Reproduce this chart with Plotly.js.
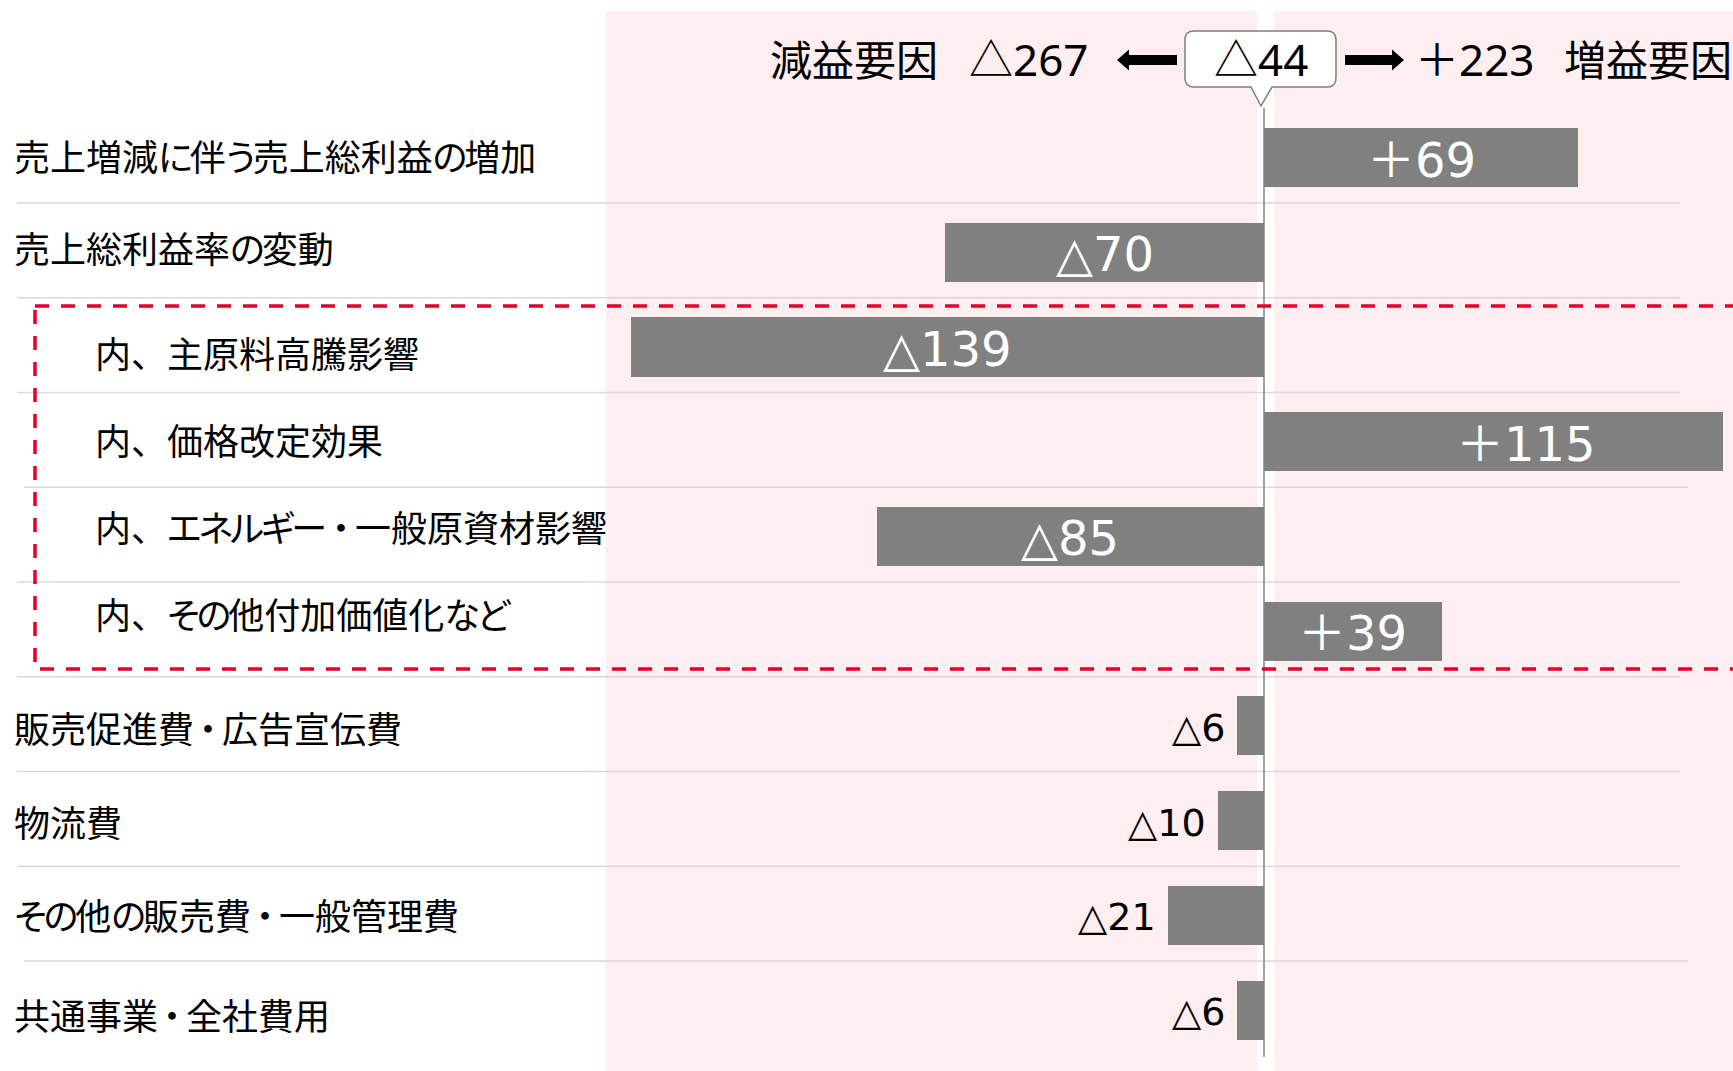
<!DOCTYPE html>
<html><head><meta charset="utf-8">
<script src="https://cdn.plot.ly/plotly-3.0.1.min.js"></script>
<style>
html,body{margin:0;padding:0;background:#fff;overflow:hidden;}
#chart{width:1733px;height:1071px;}
text.annotation-text{font-feature-settings:"palt";}
</style>
</head><body><div id="chart"></div>
<script>
// ---- data ----
const categories = [
  '売上増減に伴う売上総利益の増加',
  '売上総利益率の変動',
  '内、主原料高騰影響',
  '内、価格改定効果',
  '内、エネルギー・一般原資材影響',
  '内、その他付加価値化など',
  '販売促進費・広告宣伝費',
  '物流費',
  'その他の販売費・一般管理費',
  '共通事業・全社費用'
];
const values = [69, -70, -139, 115, -85, 39, -6, -10, -21, -6];
const subItem = [false, false, true, true, true, true, false, false, false, false];
const headerLeftLabel = '減益要因';
const headerRightLabel = '増益要因';
const decreaseTotal = -267;
const increaseTotal = 223;
const netTotal = -44;

// ---- layout helpers (pixel geometry) ----
const W = 1733, H = 1071, MR = 10, PW = W - MR;
const px = x => x / PW;
const py = y => 1 - y / H;
const P = (x, y) => px(x) + ',' + py(y);
const fmt = v => v > 0 ? '＋' + v : '△' + Math.abs(v);
const labelDy = [-3, -5, 5, -3, -10, -18, 1, 0, -1, 4];
const numFont = "'DejaVu Sans', 'Noto Sans CJK JP', sans-serif";
const jpFont = "'Noto Sans CJK JP', sans-serif";
const headFont = "'Noto Sans', 'Noto Sans CJK JP', sans-serif";
// typographic tuning per character: full-width ideographic comma, tighter kana, medium middle dot
const span = (st, ch) => '<span style="' + st + '">' + ch + '</span>';
const isKana = ch => /[\u3041-\u30FA\u30FC-\u30FF]/.test(ch);
const styleLabel = s => {
  const chars = Array.from(s);
  let out = '';
  for (let k = 0; k < chars.length; k++) {
    const ch = chars[k];
    if (ch === '、') out += span('font-feature-settings:normal', ch);
    else if (ch === '・') out += span('font-feature-settings:normal;letter-spacing:-4px', ch);
    else if (chars[k + 1] === '・') out += span('letter-spacing:-4px', ch);
    else if (isKana(ch)) out += span('letter-spacing:-3px', ch);
    else out += ch;
  }
  return out;
};

const idx = categories.map((_, i) => i);

const trace = {
  type: 'bar', orientation: 'h',
  x: values, y: idx, width: 0.623,
  marker: {color: '#808080', line: {width: 0}},
  hoverinfo: 'skip', textposition: 'none'
};

const shapes = [];
// pink panels
shapes.push({type: 'rect', xref: 'paper', yref: 'paper', x0: px(606), x1: px(1257), y0: py(11), y1: py(1080),
  fillcolor: '#FFEEEF', line: {width: 0}, layer: 'below'});
shapes.push({type: 'rect', xref: 'paper', yref: 'paper', x0: px(1274), x1: px(1745), y0: py(11), y1: py(1080),
  fillcolor: '#FFEEEF', line: {width: 0}, layer: 'below'});
// row separators
for (let i = 0; i < categories.length - 1; i++) {
  const xs = (i === 3 || i === 8) ? 24 : 17;
  const xe = (i === 3 || i === 8) ? 1688 : 1680;
  shapes.push({type: 'line', xref: 'paper', yref: 'y', x0: px(xs), x1: px(xe), y0: i + 0.48, y1: i + 0.48,
    line: {color: '#D9D9D9', width: 1.5}, layer: 'below'});
}
// zero line
shapes.push({type: 'line', xref: 'x', yref: 'paper', x0: 0, x1: 0, y0: py(108), y1: py(1057),
  line: {color: '#A0A0A0', width: 2}, layer: 'below'});
// red dashed box around breakdown items
shapes.push({type: 'rect', xref: 'paper', yref: 'paper', x0: px(35), x1: px(1800), y0: py(306), y1: py(669),
  line: {color: '#E4002B', width: 3.5, dash: '14px,12px'}, fillcolor: 'rgba(0,0,0,0)', layer: 'above'});
// callout box
(function () {
  const L = 1185, R = 1336, T = 31, B = 87, r = 9;
  const path = 'M' + P(L + r, T) + ' L' + P(R - r, T) + ' Q' + P(R, T) + ' ' + P(R, T + r) +
    ' L' + P(R, B - r) + ' Q' + P(R, B) + ' ' + P(R - r, B) +
    ' L' + P(1272, B) + ' L' + P(1261, 106) + ' L' + P(1251, B) +
    ' L' + P(L + r, B) + ' Q' + P(L, B) + ' ' + P(L, B - r) +
    ' L' + P(L, T + r) + ' Q' + P(L, T) + ' ' + P(L + r, T) + ' Z';
  shapes.push({type: 'path', xref: 'paper', yref: 'paper', path: path, fillcolor: '#FFFFFF',
    line: {color: '#7F7F7F', width: 1.5}, layer: 'above'});
})();
// arrows
shapes.push({type: 'path', xref: 'paper', yref: 'paper',
  path: 'M' + P(1117, 60) + ' L' + P(1129, 49.5) + ' L' + P(1129, 55) + ' L' + P(1177, 55) + ' L' + P(1177, 65) +
    ' L' + P(1129, 65) + ' L' + P(1129, 70.5) + ' Z',
  fillcolor: '#000', line: {width: 0}, layer: 'above'});
shapes.push({type: 'path', xref: 'paper', yref: 'paper',
  path: 'M' + P(1404, 60) + ' L' + P(1392, 49.5) + ' L' + P(1392, 55) + ' L' + P(1345, 55) + ' L' + P(1345, 65) +
    ' L' + P(1392, 65) + ' L' + P(1392, 70.5) + ' Z',
  fillcolor: '#000', line: {width: 0}, layer: 'above'});

const annotations = [];
// category labels
categories.forEach((c, i) => {
  annotations.push({text: styleLabel(c), xref: 'paper', yref: 'y', x: px(subItem[i] ? 93 : 12), y: i, yshift: -labelDy[i],
    xanchor: 'left', yanchor: 'middle', showarrow: false,
    font: {family: jpFont, size: 36, color: '#000'}});
});
// bar value labels
values.forEach((v, i) => {
  if (Math.abs(v) >= 30) {
    annotations.push({text: fmt(v), xref: 'x', yref: 'y', x: v / 2, y: i, yshift: -2,
      xanchor: 'center', yanchor: 'middle', showarrow: false,
      font: {family: numFont, size: 48, color: '#FFFFFF'}});
  } else {
    annotations.push({text: fmt(v), xref: 'x', yref: 'y', x: v, y: i, yshift: -2,
      xanchor: v < 0 ? 'right' : 'left', xshift: v < 0 ? -10 : 10, yanchor: 'middle', showarrow: false,
      font: {family: numFont, size: 38, color: '#000'}});
  }
});
// header
const hy = py(59);
annotations.push({text: headerLeftLabel, xref: 'paper', yref: 'paper', x: px(768), y: hy, xanchor: 'left', yanchor: 'middle',
  showarrow: false, font: {family: headFont, size: 42, color: '#000'}});
annotations.push({text: fmt(decreaseTotal), xref: 'paper', yref: 'paper', x: px(967), y: hy, xanchor: 'left', yanchor: 'middle',
  showarrow: false, font: {family: headFont, size: 44, color: '#000'}});
annotations.push({text: fmt(netTotal), xref: 'paper', yref: 'paper', x: px(1261), y: hy, xanchor: 'center', yanchor: 'middle',
  showarrow: false, font: {family: headFont, size: 44, color: '#000'}});
annotations.push({text: fmt(increaseTotal), xref: 'paper', yref: 'paper', x: px(1413), y: hy, xanchor: 'left', yanchor: 'middle',
  showarrow: false, font: {family: headFont, size: 44, color: '#000'}});
annotations.push({text: headerRightLabel, xref: 'paper', yref: 'paper', x: px(1562), y: hy, xanchor: 'left', yanchor: 'middle',
  showarrow: false, font: {family: headFont, size: 42, color: '#000'}});

const layout = {
  width: W, height: H,
  margin: {l: 0, r: MR, t: 0, b: 0, pad: 0},
  paper_bgcolor: '#FFFFFF', plot_bgcolor: 'rgba(0,0,0,0)',
  showlegend: false,
  xaxis: {range: [-277.5, 100.77], visible: false, fixedrange: true},
  yaxis: {range: [9.642, -1.6625], visible: false, fixedrange: true},
  shapes: shapes,
  annotations: annotations,
  bargap: 0
};

Plotly.newPlot('chart', [trace], layout, {displayModeBar: false, staticPlot: true});
</script>
</body></html>
